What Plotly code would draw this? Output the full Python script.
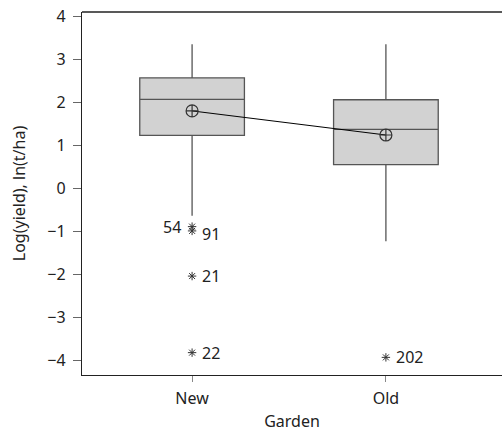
import plotly.graph_objects as go

categories = ["New", "Old"]
positions = [0, 1]
q1 = [1.24, 0.56]
median = [2.08, 1.38]
q3 = [2.58, 2.07]
lower_whisker = [-0.63, -1.22]
upper_whisker = [3.36, 3.36]
means = [1.81, 1.25]

outlier_x = [0, 0, 0, 0, 1]
outlier_y = [-0.88, -0.98, -2.03, -3.81, -3.92]
outlier_ids = ["54", "91", "21", "22", "202"]
outlier_side = ["left", "right", "right", "right", "right"]

y_ticks = [-4, -3, -2, -1, 0, 1, 2, 3, 4]
FONT = "Noto Sans"
TXT = "#222222"

fig = go.Figure()
fig.add_trace(go.Box(
    x=positions, q1=q1, median=median, q3=q3,
    lowerfence=lower_whisker, upperfence=upper_whisker,
    width=0.54, fillcolor="#d2d2d2",
    line=dict(color="#555555", width=1.3),
    whiskerwidth=0, boxpoints=False, hoverinfo="skip",
))
fig.add_trace(go.Scatter(
    x=positions, y=means, mode="lines+markers",
    line=dict(color="#000000", width=1),
    marker=dict(symbol="circle-cross-open", size=12, color="#333333",
                line=dict(width=1.2)),
))
fig.add_trace(go.Scatter(
    x=outlier_x, y=outlier_y, mode="markers",
    marker=dict(symbol="asterisk-open", size=7, color="#333333",
                line=dict(width=1, color="#333333")),
))
for xv, yv, lab, side in zip(outlier_x, outlier_y, outlier_ids, outlier_side):
    fig.add_annotation(
        x=xv, y=yv - (0.07 if lab == "91" else 0), text=lab, showarrow=False,
        xanchor="right" if side == "left" else "left",
        xshift=-9 if side == "left" else 8,
        font=dict(family=FONT, size=16, color=TXT),
    )

# top frame line drawn as a paper-referenced shape (no right border)
fig.add_shape(type="line", xref="paper", yref="paper", x0=0, x1=1.02, y0=1, y1=1,
              line=dict(color="#222222", width=1.3))

fig.update_layout(
    width=502, height=432,
    margin=dict(l=82, r=0, t=12, b=57),
    plot_bgcolor="white", paper_bgcolor="white",
    showlegend=False,
    font=dict(family=FONT, size=16, color=TXT),
    xaxis=dict(
        range=[-0.568, 1.599], tickvals=positions, ticktext=categories,
        showline=True, linecolor="#222222", linewidth=1.3, mirror=False,
        ticks="outside", ticklen=6, tickcolor="#888888",
        ticklabelstandoff=3,
        showgrid=False, zeroline=False, automargin=False,
        title=dict(text="Garden", standoff=12, font=dict(size=16)),
        tickfont=dict(size=16),
    ),
    yaxis=dict(
        range=[-4.33, 4.11], tickvals=y_ticks,
        ticktext=[("\u2212" + str(-v)) if v < 0 else str(v) for v in y_ticks],
        showline=True, linecolor="#222222", linewidth=1.3,
        ticks="outside", ticklen=8, tickcolor="#666666",
        ticklabelstandoff=4,
        showgrid=False, zeroline=False, automargin=False,
        title=dict(text="Log(yield), ln(t/ha)", standoff=17, font=dict(size=16)),
        tickfont=dict(size=16),
    ),
)

fig.write_html(
    "out.html", config={"displayModeBar": False},
    post_script="document.body.style.margin='0';"
                "document.body.style.overflow='hidden';"
                "document.documentElement.style.overflow='hidden';",
)
